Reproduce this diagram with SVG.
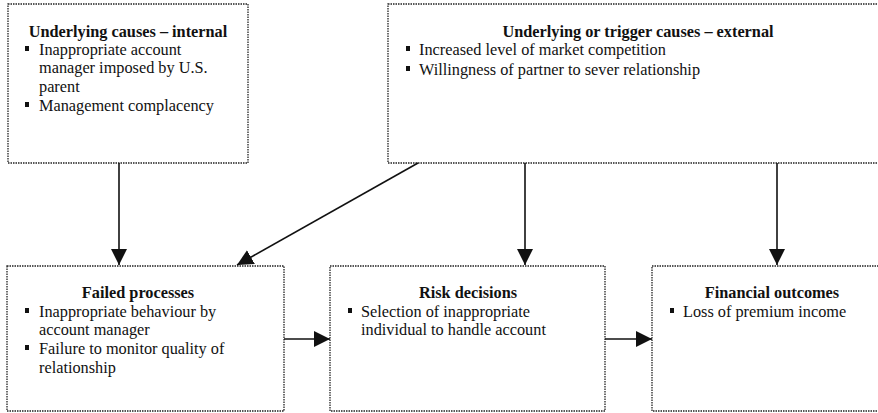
<svg xmlns="http://www.w3.org/2000/svg" width="878" height="413" viewBox="0 0 878 413">
  <style>
    .box { fill: #fff; stroke: #222; stroke-width: 1.3; stroke-dasharray: 1.5 1; }
    .t { font-family: "Liberation Serif", "Times New Roman", serif; font-size: 16.3px; fill: #111; }
    .h { font-weight: bold; text-anchor: middle; }
    .link { stroke: #111; stroke-width: 1.6; fill: none; marker-end: url(#head); }
    .bullet { fill: #111; }
  </style>
  <defs>
    <marker id="head" markerUnits="userSpaceOnUse" markerWidth="18" markerHeight="18" refX="16" refY="8" orient="auto">
      <path d="M0,0 L16,8 L0,16 Z" fill="#111"/>
    </marker>
  </defs>
  <rect width="878" height="413" fill="#fff"/>

  <g id="internal-causes">
    <rect class="box" x="8" y="4" width="240" height="159"/>
    <text class="t h" x="128" y="37">Underlying causes – internal</text>
    <rect class="bullet" x="25" y="46" width="4" height="5"/>
    <text class="t" x="39" y="55">Inappropriate account</text>
    <text class="t" x="39" y="73">manager imposed by U.S.</text>
    <text class="t" x="39" y="92">parent</text>
    <rect class="bullet" x="25" y="102" width="4" height="5"/>
    <text class="t" x="39" y="111">Management complacency</text>
  </g>

  <g id="external-causes">
    <rect class="box" x="388" y="4" width="500" height="159"/>
    <text class="t h" x="638" y="37">Underlying or trigger causes – external</text>
    <rect class="bullet" x="406" y="46" width="4" height="5"/>
    <text class="t" x="419" y="55">Increased level of market competition</text>
    <rect class="bullet" x="406" y="66" width="4" height="5"/>
    <text class="t" x="419" y="75">Willingness of partner to sever relationship</text>
  </g>

  <g id="failed-processes">
    <rect class="box" x="7" y="266" width="277" height="145"/>
    <text class="t h" x="138" y="298">Failed processes</text>
    <rect class="bullet" x="25" y="308" width="4" height="5"/>
    <text class="t" x="39" y="317">Inappropriate behaviour by</text>
    <text class="t" x="39" y="335">account manager</text>
    <rect class="bullet" x="25" y="345" width="4" height="5"/>
    <text class="t" x="39" y="354">Failure to monitor quality of</text>
    <text class="t" x="39" y="373">relationship</text>
  </g>

  <g id="risk-decisions">
    <rect class="box" x="330" y="266" width="275" height="145"/>
    <text class="t h" x="468" y="298">Risk decisions</text>
    <rect class="bullet" x="348" y="308" width="4" height="5"/>
    <text class="t" x="361" y="317">Selection of inappropriate</text>
    <text class="t" x="361" y="335">individual to handle account</text>
  </g>

  <g id="financial-outcomes">
    <rect class="box" x="652" y="266" width="240" height="145"/>
    <text class="t h" x="772" y="298">Financial outcomes</text>
    <rect class="bullet" x="670" y="308" width="4" height="5"/>
    <text class="t" x="683" y="317">Loss of premium income</text>
  </g>

  <g id="connectors">
    <line class="link" x1="119" y1="163" x2="119" y2="265"/>
    <line class="link" x1="418" y1="163" x2="237" y2="265"/>
    <line class="link" x1="525" y1="163" x2="525" y2="265"/>
    <line class="link" x1="777" y1="163" x2="777" y2="265"/>
    <line class="link" x1="284" y1="339" x2="330" y2="339"/>
    <line class="link" x1="605" y1="339" x2="652" y2="339"/>
  </g>
</svg>
